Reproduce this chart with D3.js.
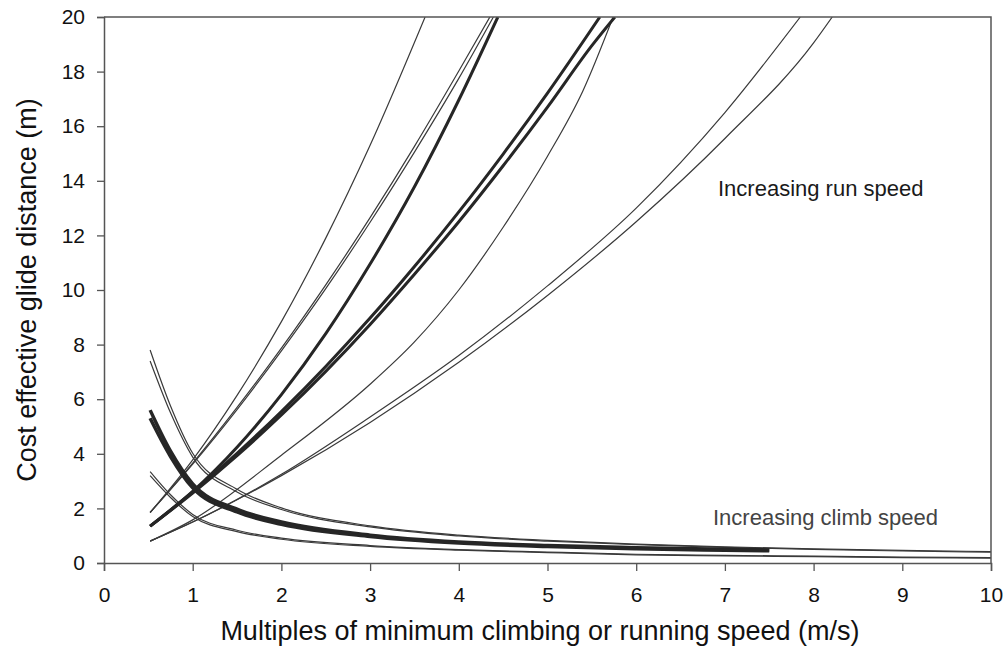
<!DOCTYPE html>
<html>
<head>
<meta charset="utf-8">
<script src="https://cdnjs.cloudflare.com/ajax/libs/d3/7.8.5/d3.min.js"></script>
<style>
body { margin: 0; background: #fff; }
text { font-family: "Liberation Sans", Arial, Helvetica, sans-serif; }
</style>
</head>
<body>
<svg id="chart" width="1005" height="647"></svg>
<script>

// Run speed curves (glide distance rising with speed) as [x, y]
var runThinA  = [[0.52,1.85],[1,3.78],[1.5,6.14],[2,8.84],[2.5,11.9],[3,15.3],[3.62,20]]
var runThinB  = [[0.52,1.85],[1,3.66],[1.5,5.7],[2,7.87],[2.5,10.19],[3,12.65],[3.5,15.26],[4,18.02],[4.35,20]]
var runThinC  = [[0.52,1.85],[1,3.62],[1.5,5.62],[2,7.77],[2.5,10.05],[3,12.48],[3.5,15.05],[4,17.75],[4.39,20]]
var runThickA = [[0.52,1.35],[1,2.62],[1.5,4.24],[2,6.17],[2.5,8.4],[3,10.95],[3.5,13.78],[4,16.96],[4.44,20]]
var runThickB = [[0.52,1.35],[1,2.6],[1.5,4.02],[2,5.55],[2.5,7.2],[3,8.97],[3.5,10.86],[4,12.86],[4.5,14.98],[5,17.21],[5.59,20]]
var runThickC = [[0.52,1.35],[1,2.56],[1.5,3.93],[2,5.42],[2.5,7.02],[3,8.74],[3.5,10.58],[4,12.5],[4.5,14.55],[5,16.7],[5.5,18.95],[5.76,20]]
var runThinD  = [[0.52,0.8],[1,1.58],[2,3.95],[3,6.55],[3.5,8.1],[4,10.0],[4.5,12.3],[5,14.9],[5.4,17.3],[5.74,20]]
var runThinE  = [[0.52,0.8],[1,1.5],[2,3.25],[3,5.35],[4,7.6],[5,10.15],[6,13.0],[7,16.5],[7.85,20]]
var runThinF  = [[0.52,0.8],[1,1.5],[2,3.2],[3,5.15],[4,7.35],[5,9.8],[6,12.5],[7,15.55],[8,19.05],[8.21,20]]

// Climb speed curves (glide distance falling with speed)
var climbX      = [0.52,0.75,1,1.5,2,3,4,5,6,7,8,9,10]
var climbThickX = [0.52,0.75,1,1.5,2,3,4,5,6,7,7.5]
var climbThinA  = [7.8,5.75,4.02,2.7,2.02,1.36,1.02,0.83,0.69,0.59,0.52,0.46,0.42]
var climbThinB  = [7.4,5.5,3.88,2.6,1.96,1.32,0.99,0.8,0.67,0.57,0.5,0.44,0.4]
var climbThickA = [5.6,4.1,2.9,1.97,1.5,1.02,0.77,0.64,0.56,0.5,0.48]
var climbThickB = [5.3,3.9,2.75,1.87,1.42,0.97,0.73,0.6,0.52,0.47,0.45]
var climbThinC  = [3.35,2.5,1.78,1.2,0.91,0.64,0.49,0.4,0.32,0.28,0.25,0.22,0.2]
var climbThinD  = [3.2,2.4,1.7,1.15,0.87,0.61,0.47,0.38,0.3,0.26,0.23,0.2,0.18]

// Axis ticks and labels
var xTicks = [0,1,2,3,4,5,6,7,8,9,10]
var yTicks = [0,2,4,6,8,10,12,14,16,18,20]
var xTitle = "Multiples of minimum climbing or running speed (m/s)"
var yTitle = "Cost effective glide distance (m)"
var runNote = "Increasing run speed"
var climbNote = "Increasing climb speed"


var svg = d3.select("#chart")
var W = 1005, H = 647
var margin = {top: 17, right: 14, bottom: 84, left: 104}
var iw = W - margin.left - margin.right,
    ih = H - margin.top - margin.bottom

var x = d3.scaleLinear().domain([0, 10]).range([0, iw])
var y = d3.scaleLinear().domain([0, 20]).range([ih, 0])

var g = svg.append("g").attr("transform", "translate(" + margin.left + "," + margin.top + ")")

// clip so curves stop on the frame
g.append("clipPath").attr("id", "plotClip")
    .append("rect").attr("x", 0).attr("y", 0).attr("width", iw).attr("height", ih)

//Build the series table - thin ones first so the heavy ones sit on top
var series = [
    {d: runThinA, w: 1.2}, {d: runThinB, w: 1.2}, {d: runThinC, w: 1.2},
    {d: runThinD, w: 1.2}, {d: runThinE, w: 1.2}, {d: runThinF, w: 1.2},
    {d: d3.zip(climbX, climbThinA), w: 1.2}, {d: d3.zip(climbX, climbThinB), w: 1.2},
    {d: d3.zip(climbX, climbThinC), w: 1.2}, {d: d3.zip(climbX, climbThinD), w: 1.2},
    {d: runThickA, w: 3}, {d: runThickB, w: 3}, {d: runThickC, w: 3},
    {d: d3.zip(climbThickX, climbThickA), w: 3.5}, {d: d3.zip(climbThickX, climbThickB), w: 3.5}
]

var line = d3.line()
    .x(function(d) { return x(d[0]) })
    .y(function(d) { return y(d[1]) })
    .curve(d3.curveMonotoneX)

g.append("g").attr("clip-path", "url(#plotClip)")
    .selectAll("path")
    .data(series)
    .enter()
    .append("path")
    .attr("d", function(s) { return line(s.d) })
    .attr("fill", "none")
    .attr("stroke", function(s) { return s.w > 2 ? "#262626" : "#3a3a3a" })
    .attr("stroke-width", function(s) { return s.w })
    .attr("stroke-linejoin", "round")

// frame: top and right edges
g.append("path")
    .attr("d", "M0,0H" + iw + "V" + ih)
    .attr("fill", "none")
    .attr("stroke", "#555")
    .attr("stroke-width", 1.5)

var xAxis = g.append("g")
    .attr("transform", "translate(0," + ih + ")")
    .call(d3.axisBottom(x).tickValues(xTicks).tickSize(8).tickPadding(16).tickFormat(d3.format("d")))

var yAxis = g.append("g")
    .call(d3.axisLeft(y).tickValues(yTicks).tickSize(7).tickPadding(12).tickFormat(d3.format("d")))

;[xAxis, yAxis].forEach(function(a) {
    a.select(".domain").attr("stroke", "#555").attr("stroke-width", 1.5)
    a.selectAll(".tick line").attr("stroke", "#555").attr("stroke-width", 1.3)
    a.selectAll(".tick text")
        .attr("fill", "#111")
        .style("font-size", "21px")
        .style("font-family", "'Liberation Sans', Arial, sans-serif")
})

// axis titles
svg.append("text")
    .attr("x", 540)
    .attr("y", 640)
    .attr("text-anchor", "middle")
    .attr("fill", "#111")
    .style("font-size", "27px")
    .text(xTitle)

svg.append("text")
    .attr("transform", "translate(36," + (margin.top + ih / 2) + ") rotate(-90)")
    .attr("text-anchor", "middle")
    .attr("fill", "#111")
    .style("font-size", "27px")
    .text(yTitle)

// the two notes inside the plot
svg.append("text")
    .attr("x", 718)
    .attr("y", 196)
    .attr("fill", "#1a1a1a")
    .style("font-size", "22px")
    .text(runNote)

svg.append("text")
    .attr("x", 713)
    .attr("y", 525)
    .attr("fill", "#444")
    .style("font-size", "22px")
    .text(climbNote)

</script>
</body>
</html>
